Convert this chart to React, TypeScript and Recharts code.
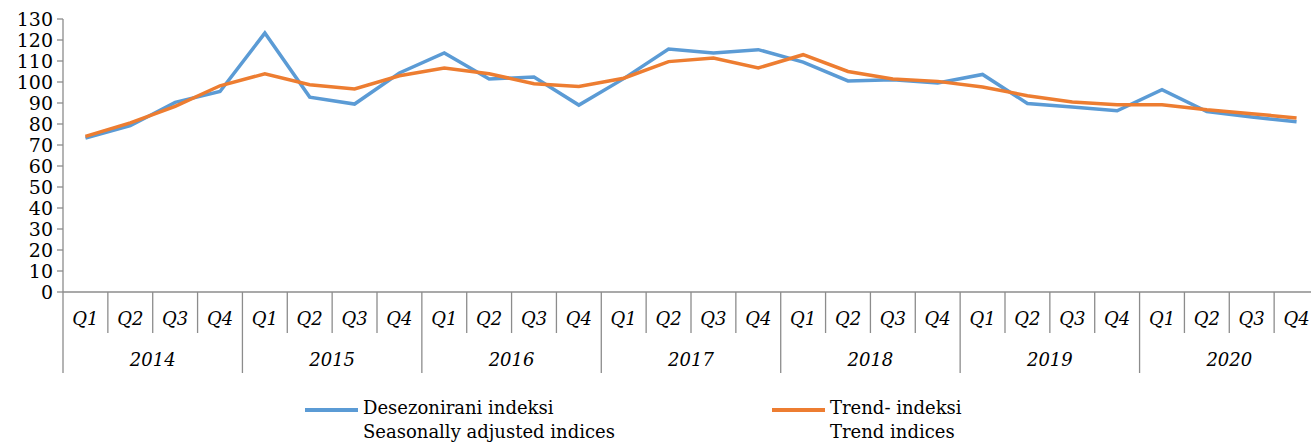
import { LineChart, Line, XAxis, YAxis, Legend } from 'recharts';

const years = ['2014', '2015', '2016', '2017', '2018', '2019', '2020'];
const quarters = ['Q1', 'Q2', 'Q3', 'Q4'];

// Desezonirani indeksi / Seasonally adjusted indices
const seasonallyAdjusted = [
    73.3, 79.2, 90.3, 95.5,
    123.3, 92.8, 89.5, 104.3,
    113.8, 101.4, 102.4, 89.0,
    101.6, 115.7, 113.8, 115.4,
    109.5, 100.5, 101.1, 99.5,
    103.6, 89.8, 88.1, 86.3,
    96.3, 85.9, 83.3, 81.1,
];

// Trend- indeksi / Trend indices
const trend = [
    74.1, 80.5, 88.4, 98.2,
    103.9, 98.7, 96.7, 103.0,
    106.7, 103.9, 99.2, 97.9,
    101.8, 109.7, 111.4, 106.7,
    113.0, 105.0, 101.4, 100.3,
    97.6, 93.5, 90.5, 89.2,
    89.2, 86.8, 84.9, 82.9,
];

const yTicks = [0, 10, 20, 30, 40, 50, 60, 70, 80, 90, 100, 110, 120, 130];

const legendItems = [
    { key: 'sa', color: '#5B9BD5', line1: 'Desezonirani indeksi', line2: 'Seasonally adjusted indices', left: 297 },
    { key: 'tr', color: '#ED7D31', line1: 'Trend- indeksi', line2: 'Trend indices', left: 764 },
];

const data = seasonallyAdjusted.map((v, i) => ({
    key: `${years[Math.floor(i / 4)]}-${quarters[i % 4]}`,
    quarter: quarters[i % 4],
    year: years[Math.floor(i / 4)],
    sa: v,
    trend: trend[i],
}));

const AXIS_GREY = '#8c8c8c';
const FONT = '"DejaVu Serif", serif';
const HALF_BAND = 22.43;

const QuarterTick = (props: any) => {
    const { x, y, payload, index } = props;
    const left = x - HALF_BAND;
    const yearStart = index % 4 === 0;
    return (
        <g>
            <line x1={left} y1={y} x2={left} y2={y + (yearStart ? 81 : 41)} stroke={AXIS_GREY} strokeWidth={1.3} />
            <text x={x} y={y + 33} textAnchor="middle" fontSize={18} fontStyle="italic" fontFamily={FONT} fill="#000">
                {payload.value}
            </text>
            {index % 4 === 1 && (
                <text x={x + HALF_BAND} y={y + 74} textAnchor="middle" fontSize={18} fontStyle="italic" fontFamily={FONT} fill="#000">
                    {data[index].year}
                </text>
            )}
        </g>
    );
};

const renderLegend = () => (
    <div style={{ position: 'relative', width: 1311, height: 48, fontFamily: FONT, fontSize: 18, color: '#000' }}>
        {legendItems.map((item) => (
            <div key={item.key} style={{ position: 'absolute', left: item.left, top: 0 }}>
                <div style={{ position: 'absolute', left: 8, top: 12, width: 53, height: 4, background: item.color }} />
                <div style={{ position: 'absolute', left: 66, top: 0, whiteSpace: 'nowrap', lineHeight: '24px' }}>
                    {item.line1}
                    <br />
                    {item.line2}
                </div>
            </div>
        ))}
    </div>
);

const App = () => {
    return (
        <div style={{ position: 'absolute', left: 0, top: 0, width: 1311, height: 443, overflow: 'hidden', background: '#fff' }}>
            <LineChart width={1321} height={443} data={data} margin={{ top: 19, right: 2, left: 0, bottom: 61 }}>
                <XAxis
                    dataKey="quarter"
                    interval={0}
                    height={90}
                    padding={{ left: HALF_BAND, right: HALF_BAND }}
                    tick={<QuarterTick />}
                    tickLine={false}
                    tickSize={0}
                    tickMargin={0}
                    axisLine={{ stroke: AXIS_GREY, strokeWidth: 1.3 }}
                />
                <YAxis
                    width={63}
                    domain={[0, 130]}
                    ticks={yTicks}
                    interval={0}
                    tickSize={6}
                    tickMargin={4}
                    tick={{ fontSize: 19, fontFamily: FONT, fill: '#000' }}
                    tickLine={{ stroke: AXIS_GREY, strokeWidth: 1.3 }}
                    axisLine={{ stroke: AXIS_GREY, strokeWidth: 1.3 }}
                />
                <Legend
                    layout="horizontal"
                    verticalAlign="middle"
                    align="center"
                    content={renderLegend}
                    wrapperStyle={{ top: 396, left: 0, width: 1311 }}
                />
                <Line
                    dataKey="sa"
                    name="Desezonirani indeksi"
                    stroke="#5B9BD5"
                    strokeWidth={3.5}
                    dot={false}
                    isAnimationActive={false}
                />
                <Line
                    dataKey="trend"
                    name="Trend- indeksi"
                    stroke="#ED7D31"
                    strokeWidth={3.5}
                    dot={false}
                    isAnimationActive={false}
                />
            </LineChart>
        </div>
    );
};

export default App;
